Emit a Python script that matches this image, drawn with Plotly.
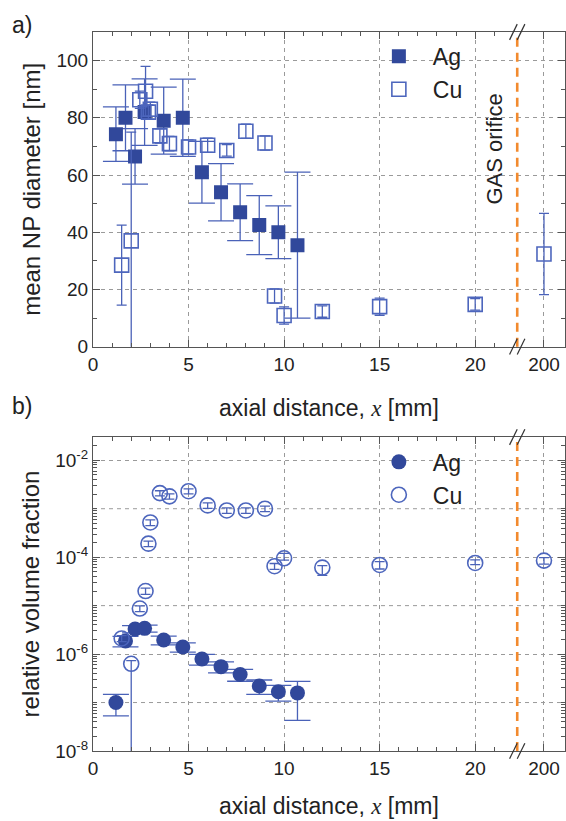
import plotly.graph_objects as go
from plotly.subplots import make_subplots

# ---------------- data ----------------
ag_x = [1.2, 1.7, 2.2, 2.7, 3.7, 4.7, 5.7, 6.7, 7.7, 8.7, 9.7, 10.7]
ag_diam = [74.3, 80.0, 66.5, 82.0, 79.0, 80.0, 61.0, 54.0, 47.0, 42.5, 40.0, 35.5]
ag_diam_err = [9.5, 11.5, 9.7, 11.6, 11.7, 13.5, 10.8, 10.0, 9.9, 10.3, 9.2, 25.5]

cu_x = [1.5, 2.0, 2.45, 2.75, 2.9, 3.0, 3.5, 4.0, 5.0, 6.0, 7.0, 8.0, 9.0, 9.5, 10.0, 12.0, 15.0, 20.0, 200.0]
cu_diam = [28.5, 37.0, 86.3, 89.3, 82.0, 83.0, 73.7, 71.0, 69.8, 70.4, 68.6, 75.3, 71.2, 17.7, 10.9, 12.3, 14.0, 14.8, 32.4]
cu_diam_err = [14.0, 38.0, 3.0, 8.7, 2.5, 2.5, 2.5, 2.5, 2.5, 2.5, 2.0, 2.5, 2.5, 2.5, 3.0, 2.0, 3.0, 2.0, 14.2]

ag_vf = [1.0e-7, 1.86e-6, 3.3e-6, 3.4e-6, 1.95e-6, 1.4e-6, 7.9e-7, 5.5e-7, 3.8e-7, 2.2e-7, 1.67e-7, 1.58e-7]
ag_vf_err = [4.7e-8, 4.5e-7, 5.5e-7, 5.5e-7, 4e-7, 3e-7, 2e-7, 1.4e-7, 1.05e-7, 7.2e-8, 6e-8, 1.15e-7]

cu_vf = [2.1e-6, 6.3e-7, 8.7e-6, 2.0e-5, 1.9e-4, 5.2e-4, 2.1e-3, 1.8e-3, 2.3e-3, 1.17e-3, 9.2e-4, 9.2e-4, 1.0e-3,
         6.5e-5, 9.5e-5, 6.1e-5, 6.9e-5, 7.6e-5, 8.5e-5]
cu_vf_err_hi = [3e-7, 1e-7, 1.2e-6, 3e-6, 2.5e-5, 7e-5, 2.5e-4, 2.2e-4, 2.8e-4, 1.5e-4, 1.2e-4, 1.2e-4, 1.3e-4,
                9e-6, 2.5e-5, 6e-6, 1.2e-5, 1.2e-5, 1.3e-5]
cu_vf_err_lo = [3e-7, 6.3e-7, 1.2e-6, 3e-6, 2.5e-5, 7e-5, 2.5e-4, 2.2e-4, 2.8e-4, 1.5e-4, 1.2e-4, 1.2e-4, 1.3e-4,
                9e-6, 8e-6, 1.9e-5, 1.2e-5, 6e-6, 1.3e-5]

x_tick_labels = ["0", "5", "10", "15", "20", "200"]
x_tick_values = [0, 5, 10, 15, 20, 200]
vf_label_exponents = [-8, -6, -4, -2]
vf_grid_exponents = [-7, -5, -3]

# ---------------- broken x-axis mapping ----------------
BREAK_POS = 22.2      # axis position of the break / GAS orifice
FAR_POS = 23.6        # axis position of x = 200 mm
X_MAX = 24.7


def xmap(v):
    return v if v <= 20 else FAR_POS


FONT = "Liberation Sans, Arial, sans-serif"
TXT = "#222222"
AG_COL = "#31489b"
CU_COL = "#4d66bd"
ERR_COL = "#4a62b8"
ORANGE = "#f28a2e"
GRID = "#9a9a9a"
AXCOL = "#555555"
TICK_SIZE = 19
TITLE_SIZE = 23

fig = make_subplots(rows=2, cols=1, vertical_spacing=0.12)

# ---------- top panel ----------
fig.add_trace(go.Scatter(
    x=[xmap(v) for v in ag_x], y=ag_diam, mode="markers", name="Ag", legend="legend",
    marker=dict(symbol="square", size=14, color=AG_COL, line=dict(width=0)),
    error_y=dict(type="data", array=ag_diam_err, color=ERR_COL, thickness=1.3, width=13),
), row=1, col=1)
fig.add_trace(go.Scatter(
    x=[xmap(v) for v in cu_x], y=cu_diam, mode="markers", name="Cu", legend="legend",
    marker=dict(symbol="square-open", size=14, color=CU_COL, line=dict(width=1.6, color=CU_COL)),
    error_y=dict(type="data", array=cu_diam_err, color=ERR_COL, thickness=1.3, width=5),
), row=1, col=1)

# ---------- bottom panel ----------
fig.add_trace(go.Scatter(
    x=[xmap(v) for v in ag_x], y=ag_vf, mode="markers", name="Ag", legend="legend2",
    marker=dict(symbol="circle", size=15, color=AG_COL, line=dict(width=0)),
    error_y=dict(type="data", array=ag_vf_err, color=ERR_COL, thickness=1.3, width=13),
), row=2, col=1)
fig.add_trace(go.Scatter(
    x=[xmap(v) for v in cu_x], y=cu_vf, mode="markers", name="Cu", legend="legend2",
    marker=dict(symbol="circle-open", size=15, color=CU_COL, line=dict(width=1.6, color=CU_COL)),
    error_y=dict(type="data", symmetric=False, array=cu_vf_err_hi, arrayminus=cu_vf_err_lo,
                 color=ERR_COL, thickness=1.3, width=5),
), row=2, col=1)

xtickpos = [xmap(v) for v in x_tick_values]
x_title = "axial distance, <span style='font-family:Liberation Serif'><i>x</i></span> [mm]"
fig.update_xaxes(
    range=[0, X_MAX], tickmode="array", tickvals=xtickpos, ticktext=x_tick_labels,
    showline=True, linecolor=AXCOL, linewidth=1.2, mirror="ticks",
    ticks="inside", ticklen=7, tickcolor=AXCOL, tickwidth=1.2,
    showgrid=True, gridcolor=GRID, griddash="4px,4px", gridwidth=1,
    zeroline=False,
    tickfont=dict(family=FONT, size=TICK_SIZE, color=TXT),
    minor=dict(tickmode="array", tickvals=list(range(1, 22)), ticks="inside", ticklen=4,
               tickcolor=AXCOL, showgrid=False),
)
fig.update_xaxes(row=1, col=1, title=dict(text=x_title, font=dict(family=FONT, size=TITLE_SIZE, color=TXT),
                                          standoff=26))
fig.update_xaxes(row=2, col=1, title=dict(text=x_title, font=dict(family=FONT, size=TITLE_SIZE, color=TXT),
                                          standoff=19))

fig.update_yaxes(
    row=1, col=1, range=[0, 110], tickmode="array", tickvals=[0, 20, 40, 60, 80, 100],
    showline=True, linecolor=AXCOL, linewidth=1.2, mirror="ticks",
    ticks="inside", ticklen=7, tickcolor=AXCOL, tickwidth=1.2,
    showgrid=True, gridcolor=GRID, griddash="4px,4px", zeroline=False,
    tickfont=dict(family=FONT, size=TICK_SIZE, color=TXT),
    minor=dict(tickmode="array", tickvals=[10, 30, 50, 70, 90, 110], ticks="inside", ticklen=4,
               tickcolor=AXCOL, showgrid=False),
    title=dict(text="mean NP diameter [nm]", font=dict(family=FONT, size=24, color=TXT), standoff=8),
)

log_minor = [k * 10.0 ** e for e in range(-8, -1) for k in range(1, 10) if not (k == 1 and e % 2 == 0)]
fig.update_yaxes(
    row=2, col=1, type="log", range=[-8, -1.52], tickmode="array",
    tickvals=[10.0 ** e for e in vf_label_exponents],
    ticktext=["10<sup>%d</sup>" % e for e in vf_label_exponents],
    showline=True, linecolor=AXCOL, linewidth=1.2, mirror="ticks",
    ticks="inside", ticklen=7, tickcolor=AXCOL, tickwidth=1.2,
    showgrid=True, gridcolor=GRID, griddash="4px,4px", zeroline=False,
    tickfont=dict(family=FONT, size=TICK_SIZE, color=TXT),
    minor=dict(tickmode="array", tickvals=log_minor, ticks="inside", ticklen=4,
               tickcolor=AXCOL, showgrid=False),
    title=dict(text="relative volume fraction", font=dict(family=FONT, size=24, color=TXT), standoff=8),
)

# grid lines at the unlabelled decades
for e in vf_grid_exponents:
    fig.add_shape(type="line", xref="x2 domain", yref="y2", x0=0, x1=1, y0=10.0 ** e, y1=10.0 ** e,
                  line=dict(color=GRID, width=1, dash="4px,4px"), layer="below")

fig.update_layout(
    width=566, height=821,
    margin=dict(l=93, r=1, t=32, b=70),
    paper_bgcolor="white", plot_bgcolor="white",
    font=dict(family=FONT, color=TXT),
    yaxis=dict(domain=[0.5623, 1.0]),
    yaxis2=dict(domain=[0.0, 0.4367]),
    legend=dict(x=0.576, y=0.996, xanchor="left", yanchor="top", bgcolor="rgba(0,0,0,0)",
                font=dict(family=FONT, size=23, color=TXT), itemwidth=58, itemsizing="trace",
                tracegroupgap=0),
    legend2=dict(x=0.576, y=0.432, xanchor="left", yanchor="top", bgcolor="rgba(0,0,0,0)",
                 font=dict(family=FONT, size=23, color=TXT), itemwidth=58, itemsizing="trace",
                 tracegroupgap=0),
)

# orange dashed "GAS orifice" lines + axis breaks
for yref in ["y domain", "y2 domain"]:
    fig.add_shape(type="line", xref="x", yref=yref, x0=BREAK_POS, x1=BREAK_POS, y0=0, y1=1,
                  line=dict(color=ORANGE, width=2.6, dash="9px,6px"), layer="above")
for xr, yref in [("x", "y domain"), ("x2", "y2 domain")]:
    for yc in [0, 1]:
        for xc in [BREAK_POS - 0.2, BREAK_POS + 0.2]:
            fig.add_shape(type="line", xref=xr, yref=yref, x0=xc - 0.2, x1=xc + 0.2,
                          y0=yc - 0.025, y1=yc + 0.025,
                          line=dict(color="#333333", width=1.2), layer="above")

fig.add_annotation(x=21.0, y=69, xref="x", yref="y", text="GAS orifice", textangle=-90,
                   showarrow=False, font=dict(family=FONT, size=22, color=TXT))
fig.add_annotation(x=-93 / 472 + 0.022, y=1.0, xref="paper", yref="paper", text="a)",
                   xanchor="left", yanchor="bottom", yshift=-8, showarrow=False,
                   font=dict(family=FONT, size=23, color=TXT))
fig.add_annotation(x=-93 / 472 + 0.022, y=0.4367, xref="paper", yref="paper", text="b)",
                   xanchor="left", yanchor="bottom", yshift=16, showarrow=False,
                   font=dict(family=FONT, size=23, color=TXT))

fig.write_html("out.html")
